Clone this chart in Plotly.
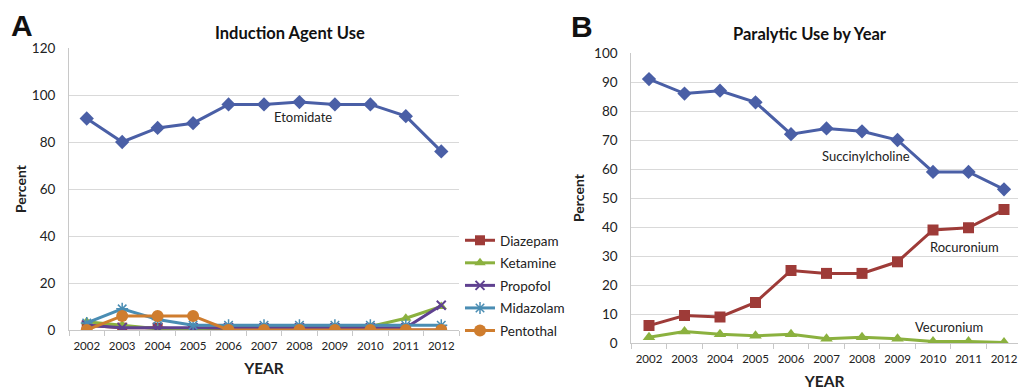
import plotly.graph_objects as go

years = ["2002", "2003", "2004", "2005", "2006", "2007", "2008", "2009", "2010", "2011", "2012"]

# Panel A: Induction agent use (percent)
etomidate = [90, 80, 86, 88, 96, 96, 97, 96, 96, 91, 76]
diazepam = [2, 1, 1, 0, 0, 0, 0, 0, 0, 0, 0]
ketamine = [3.5, 2, 0.5, 0.5, 1, 1, 1, 1, 1.5, 5, 10]
propofol = [2, 1, 1, 1, 1, 1, 1, 1, 1, 1, 10.5]
midazolam = [3, 9, 4.5, 2, 2, 2, 2, 2, 2, 2, 2]
pentothal = [0, 6, 6, 6, 0, 0, 0, 0, 0, 0, 0]

# Panel B: Paralytic use (percent)
succinylcholine = [91, 86, 87, 83, 72, 74, 73, 70, 59, 59, 53]
rocuronium = [6, 9.5, 9, 14, 25, 24, 24, 28, 39, 39.7, 46]
vecuronium = [2, 4, 3, 2.5, 3, 1.5, 2, 1.5, 0.5, 0.5, 0.2]

BLUE = "#4a5fa6"
RED = "#9e3b38"
GREEN = "#8bb13f"
PURPLE = "#5f4190"
TEAL = "#4a8db3"
ORANGE = "#cf7d2e"

FONT = "Lato"
OFF = 8  # page body margin offset
W, H = 1026 - 2 * OFF, 390 - OFF


def px(x):
    return (x - OFF) / W


def py(y):
    return (H - (y - OFF)) / H


fig = go.Figure()


def add(x, y, name, color, symbol, size, xa, ya, show, lw=3, mline=0):
    fig.add_trace(go.Scatter(
        x=x, y=y, name=name, mode="lines+markers",
        line=dict(color=color, width=lw),
        marker=dict(color=color, symbol=symbol, size=size,
                    line=dict(color=color, width=mline)),
        xaxis=xa, yaxis=ya, showlegend=show, legendgroup=name,
    ))


add(years, etomidate, "Etomidate", BLUE, "diamond", 11, "x", "y", False)
add(years, diazepam, "Diazepam", RED, "square", 10, "x", "y", True)
add(years, ketamine, "Ketamine", GREEN, "triangle-up", 10, "x", "y", True)
add(years, propofol, "Propofol", PURPLE, "x-thin-open", 9, "x", "y", True, mline=2)
add(years, midazolam, "Midazolam", TEAL, "asterisk-open", 10, "x", "y", True, mline=1.5)
add(years, pentothal, "Pentothal", ORANGE, "circle", 12, "x", "y", True)

add(years, succinylcholine, "Succinylcholine", BLUE, "diamond", 11, "x2", "y2", False)
add(years, rocuronium, "Rocuronium", RED, "square", 11, "x2", "y2", False)
add(years, vecuronium, "Vecuronium", GREEN, "triangle-up", 11, "x2", "y2", False)

xtickfont = dict(family=FONT, size=11.5, color="#222")
ytickfont = dict(family=FONT, size=13.5, color="#222")
grid = "#d9d9d9"

xcommon = dict(type="category", tickfont=xtickfont, tickangle=0, showgrid=False, showline=True,
               linecolor="#c8c8c8", linewidth=1, ticks="outside", tickson="boundaries",
               ticklen=5, tickcolor="#c8c8c8", zeroline=False, automargin=False,
               ticklabelstandoff=5, ticklabeloverflow="allow")
ycommon = dict(tickfont=ytickfont, showgrid=True, gridcolor=grid, gridwidth=1,
               showline=True, linecolor="#c8c8c8", linewidth=1, zeroline=False,
               ticks="", ticklabelstandoff=10, automargin=False)

fig.update_layout(
    width=W, height=H,
    margin=dict(l=0, r=0, t=0, b=0, autoexpand=False),
    plot_bgcolor="white", paper_bgcolor="white",
    font=dict(family=FONT, color="#222"),
    xaxis=dict(domain=[px(69), px(459)], anchor="y", range=[-0.5, 10.5],
               title=dict(text="<b>YEAR</b>", font=dict(family=FONT, size=15.5), standoff=12),
               **xcommon),
    yaxis=dict(domain=[py(330), py(48)], anchor="x", range=[0, 120], dtick=20,
               title=dict(text="<b>Percent</b>", font=dict(family=FONT, size=14), standoff=1),
               **ycommon),
    xaxis2=dict(domain=[px(631.25), 1.0], anchor="y2", range=[-0.5, 10.394],
                title=dict(text="<b>YEAR</b>", font=dict(family=FONT, size=15.5), standoff=19),
                **xcommon),
    yaxis2=dict(domain=[py(343), py(53)], anchor="x2", range=[0, 100], dtick=10,
                title=dict(text="<b>Percent</b>", font=dict(family=FONT, size=14), standoff=6),
                **ycommon),
    legend=dict(x=px(460), y=py(225), xanchor="left", yanchor="top",
                font=dict(family=FONT, size=13.5, color="#222"),
                itemwidth=30, tracegroupgap=2, bgcolor="rgba(0,0,0,0)"),
    showlegend=True,
)

annotations = [
    dict(text="<b>A</b>", x=px(9), y=py(25), xref="paper", yref="paper",
         xanchor="left", yanchor="middle", showarrow=False,
         font=dict(family="Liberation Sans", size=30, color="#111")),
    dict(text="<b>B</b>", x=px(569), y=py(27), xref="paper", yref="paper",
         xanchor="left", yanchor="middle", showarrow=False,
         font=dict(family="Liberation Sans", size=30, color="#111")),
    dict(text="<b>Induction Agent Use</b>", x=px(290), y=py(33), xref="paper", yref="paper",
         xanchor="center", yanchor="middle", showarrow=False,
         font=dict(family=FONT, size=16.5, color="#111")),
    dict(text="<b>Paralytic Use by Year</b>", x=px(810), y=py(34), xref="paper", yref="paper",
         xanchor="center", yanchor="middle", showarrow=False,
         font=dict(family=FONT, size=16.5, color="#111")),
    dict(text="Etomidate", x=6.1, y=90.6, xref="x", yref="y", showarrow=False,
         font=dict(family=FONT, size=13, color="#222")),
    dict(text="Succinylcholine", x=6.1, y=64.5, xref="x2", yref="y2", showarrow=False,
         font=dict(family=FONT, size=13, color="#222")),
    dict(text="Rocuronium", x=8.9, y=33, xref="x2", yref="y2", showarrow=False,
         font=dict(family=FONT, size=13, color="#222")),
    dict(text="Vecuronium", x=8.45, y=5.5, xref="x2", yref="y2", showarrow=False,
         font=dict(family=FONT, size=13, color="#222")),
]
fig.update_layout(annotations=annotations)

fig.write_html("out.html")
